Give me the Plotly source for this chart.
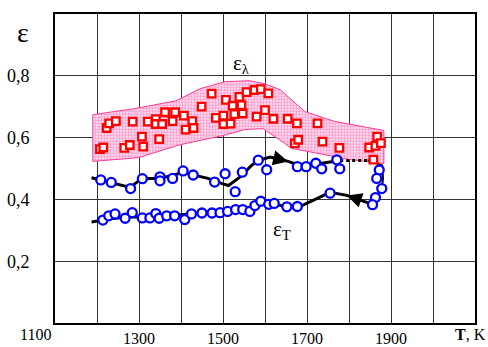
import plotly.graph_objects as go

# ---- data ----
sq_T = [1207, 1215, 1223, 1229, 1245, 1265, 1278, 1285, 1307, 1310, 1321, 1340, 1340, 1348,
        1355, 1362, 1380, 1386, 1407, 1411, 1427, 1430, 1449, 1473, 1483, 1501, 1501, 1507,
        1518, 1523, 1527, 1539, 1544, 1547, 1556, 1575, 1590, 1608, 1580, 1600, 1620, 1654,
        1676, 1671, 1679, 1725, 1737, 1777, 1848, 1858, 1863, 1867, 1876]
sq_e = [0.563, 0.568, 0.631, 0.646, 0.653, 0.567, 0.576, 0.652, 0.603, 0.571, 0.652, 0.660,
        0.644, 0.595, 0.644, 0.682, 0.653, 0.682, 0.671, 0.626, 0.653, 0.631, 0.700, 0.742,
        0.664, 0.671, 0.644, 0.722, 0.645, 0.703, 0.676, 0.732, 0.705, 0.678, 0.747, 0.754,
        0.757, 0.743, 0.668, 0.689, 0.661, 0.661, 0.646, 0.581, 0.593, 0.646, 0.587, 0.567,
        0.568, 0.529, 0.573, 0.603, 0.582]

up_T = [1209, 1234, 1280, 1308, 1350, 1350, 1380, 1405, 1429, 1480, 1505, 1529, 1546, 1584,
        1604, 1677, 1698, 1721, 1735, 1771, 1778, 1872, 1866, 1878, 1863, 1856]
up_e = [0.463, 0.455, 0.435, 0.467, 0.473, 0.460, 0.468, 0.492, 0.479, 0.456, 0.483, 0.425,
        0.488, 0.527, 0.496, 0.506, 0.506, 0.517, 0.499, 0.528, 0.499, 0.495, 0.468, 0.435,
        0.406, 0.383]

lo_T = [1214, 1228, 1243, 1267, 1284, 1308, 1326, 1340, 1348, 1366, 1385, 1409, 1425, 1450,
        1474, 1493, 1511, 1530, 1547, 1564, 1576, 1590, 1609, 1622, 1652, 1677, 1755]
lo_e = [0.333, 0.347, 0.353, 0.339, 0.357, 0.340, 0.340, 0.354, 0.339, 0.347, 0.347, 0.335,
        0.353, 0.356, 0.356, 0.357, 0.361, 0.367, 0.367, 0.361, 0.380, 0.394, 0.384, 0.387,
        0.376, 0.377, 0.420]

# heating curve (upper) and cooling curve (lower)
heat_T = [1187, 1233, 1279, 1307, 1350, 1405, 1464, 1498, 1513, 1540, 1568, 1584, 1612, 1655,
          1676, 1731, 1779]
heat_e = [0.470, 0.455, 0.439, 0.468, 0.468, 0.487, 0.468, 0.451, 0.445, 0.472, 0.510, 0.526,
          0.537, 0.523, 0.513, 0.516, 0.526]
dot_T = [1779, 1845]
dot_e = [0.526, 0.526]
turn_T = [1845, 1879, 1881, 1878, 1862, 1856]
turn_e = [0.526, 0.510, 0.468, 0.435, 0.406, 0.384]
cool_T = [1856, 1795, 1755, 1683, 1652, 1621, 1590, 1576, 1548, 1512, 1445, 1386, 1326, 1279,
          1231, 1187]
cool_e = [0.384, 0.413, 0.423, 0.377, 0.374, 0.387, 0.394, 0.381, 0.366, 0.361, 0.355, 0.348,
          0.342, 0.344, 0.337, 0.327]

band_up_T = [1190, 1290, 1388, 1445, 1505, 1564, 1600, 1636, 1695, 1767, 1883]
band_up_e = [0.674, 0.694, 0.719, 0.758, 0.781, 0.784, 0.774, 0.755, 0.684, 0.652, 0.623]
band_lo_T = [1190, 1298, 1398, 1498, 1552, 1595, 1624, 1664, 1724, 1802, 1883]
band_lo_e = [0.523, 0.535, 0.577, 0.606, 0.626, 0.629, 0.603, 0.565, 0.548, 0.529, 0.516]

x_tick_vals = [1300, 1500, 1700, 1900]
x_tick_text = ["1300", "1500", "1700", "1900"]
y_tick_vals = [0.2, 0.4, 0.6, 0.8]
y_tick_text = ["0,2", "0,4", "0,6", "0,8"]

SERIF = "Times New Roman"

fig = go.Figure()

# band
poly_T = band_up_T + band_lo_T[::-1] + [band_up_T[0]]
poly_e = band_up_e + band_lo_e[::-1] + [band_up_e[0]]
fig.add_trace(go.Scatter(
    x=poly_T, y=poly_e, mode="lines", fill="toself",
    line=dict(color="#ff3a9a", width=1),
    fillcolor="#ffd0e8",
    fillpattern=dict(shape=".", fgcolor="#ff55a3", bgcolor="#ffdcee", size=3, solidity=0.45),
    hoverinfo="skip", showlegend=False))

blk = dict(color="black", width=3)
fig.add_trace(go.Scatter(x=heat_T, y=heat_e, mode="lines", line=blk, showlegend=False))
fig.add_trace(go.Scatter(x=dot_T, y=dot_e, mode="lines",
                         line=dict(color="black", width=3, dash="dot"), showlegend=False))
fig.add_trace(go.Scatter(x=turn_T, y=turn_e, mode="lines", line=dict(color="black", width=2),
                         showlegend=False))
fig.add_trace(go.Scatter(x=cool_T, y=cool_e, mode="lines", line=blk, showlegend=False))

circ = dict(symbol="circle", size=9, color="white", line=dict(color="#0000ff", width=2.3))
fig.add_trace(go.Scatter(x=up_T, y=up_e, mode="markers", marker=circ, showlegend=False))
fig.add_trace(go.Scatter(x=lo_T, y=lo_e, mode="markers", marker=circ, showlegend=False))

fig.add_trace(go.Scatter(x=sq_T, y=sq_e, mode="markers", showlegend=False,
                         marker=dict(symbol="square", size=7.5, color="white",
                                     line=dict(color="#ff0000", width=2.3))))

# arrows
fig.add_annotation(x=1655, y=0.523, ax=1612, ay=0.537, xref="x", yref="y", axref="x", ayref="y",
                   showarrow=True, arrowhead=2, arrowsize=1.2, arrowwidth=2.5, arrowcolor="black",
                   text="")
fig.add_annotation(x=1795, y=0.413, ax=1840, ay=0.392, xref="x", yref="y", axref="x", ayref="y",
                   showarrow=True, arrowhead=2, arrowsize=1.2, arrowwidth=2.5, arrowcolor="black",
                   text="")

# labels
fig.add_annotation(x=1545, y=0.79, xref="x", yref="y", showarrow=False, yanchor="bottom",
                   text="ε<sub>λ</sub>", font=dict(family=SERIF, size=21, color="black"))
fig.add_annotation(x=1640, y=0.30, xref="x", yref="y", showarrow=False,
                   text="ε<sub>T</sub>", font=dict(family=SERIF, size=21, color="black"))
fig.add_annotation(x=0, y=1.0, xref="paper", yref="paper", showarrow=False,
                   xanchor="center", yanchor="middle",
                   xshift=-32, yshift=-18, text="ε",
                   font=dict(family=SERIF, size=28, color="black"))
fig.add_annotation(x=1100, y=0, xref="x", yref="paper", showarrow=False,
                   xanchor="center", yanchor="top",
                   xshift=-20, yshift=-1, text="1100",
                   font=dict(family=SERIF, size=16, color="black"))
fig.add_annotation(x=1, y=0, xref="paper", yref="paper", showarrow=False, yanchor="top",
                   xanchor="left", xshift=-22, yshift=-1, text="<b>T</b>, K",
                   font=dict(family=SERIF, size=16, color="black"))

grid = "#333333"
fig.update_layout(
    width=488, height=347,
    margin=dict(l=55, r=13, t=14, b=24, autoexpand=False),
    paper_bgcolor="white", plot_bgcolor="white",
    showlegend=False,
    xaxis=dict(range=[1100, 2100], tickmode="array", tickvals=x_tick_vals, ticktext=x_tick_text,
               showgrid=True, gridcolor=grid, gridwidth=1, zeroline=False, automargin=False,
               showline=True, linecolor="black", linewidth=2, mirror=True, ticks="",
               ticklabelstandoff=0,
               tickfont=dict(family=SERIF, size=16, color="black"),
               minor=dict(tickmode="linear", tick0=1100, dtick=100, showgrid=True,
                          gridcolor=grid, gridwidth=1)),
    yaxis=dict(range=[0, 1.0], tickmode="array", tickvals=y_tick_vals, ticktext=y_tick_text,
               showgrid=True, gridcolor=grid, gridwidth=1, zeroline=False, automargin=False,
               showline=True, linecolor="black", linewidth=2, mirror=True, ticks="",
               ticklabelstandoff=20,
               tickfont=dict(family=SERIF, size=18, color="black")),
)

fig.write_html("out.html", config={"displayModeBar": False},
               post_script="document.body.style.margin='0';document.body.style.padding='0';")
